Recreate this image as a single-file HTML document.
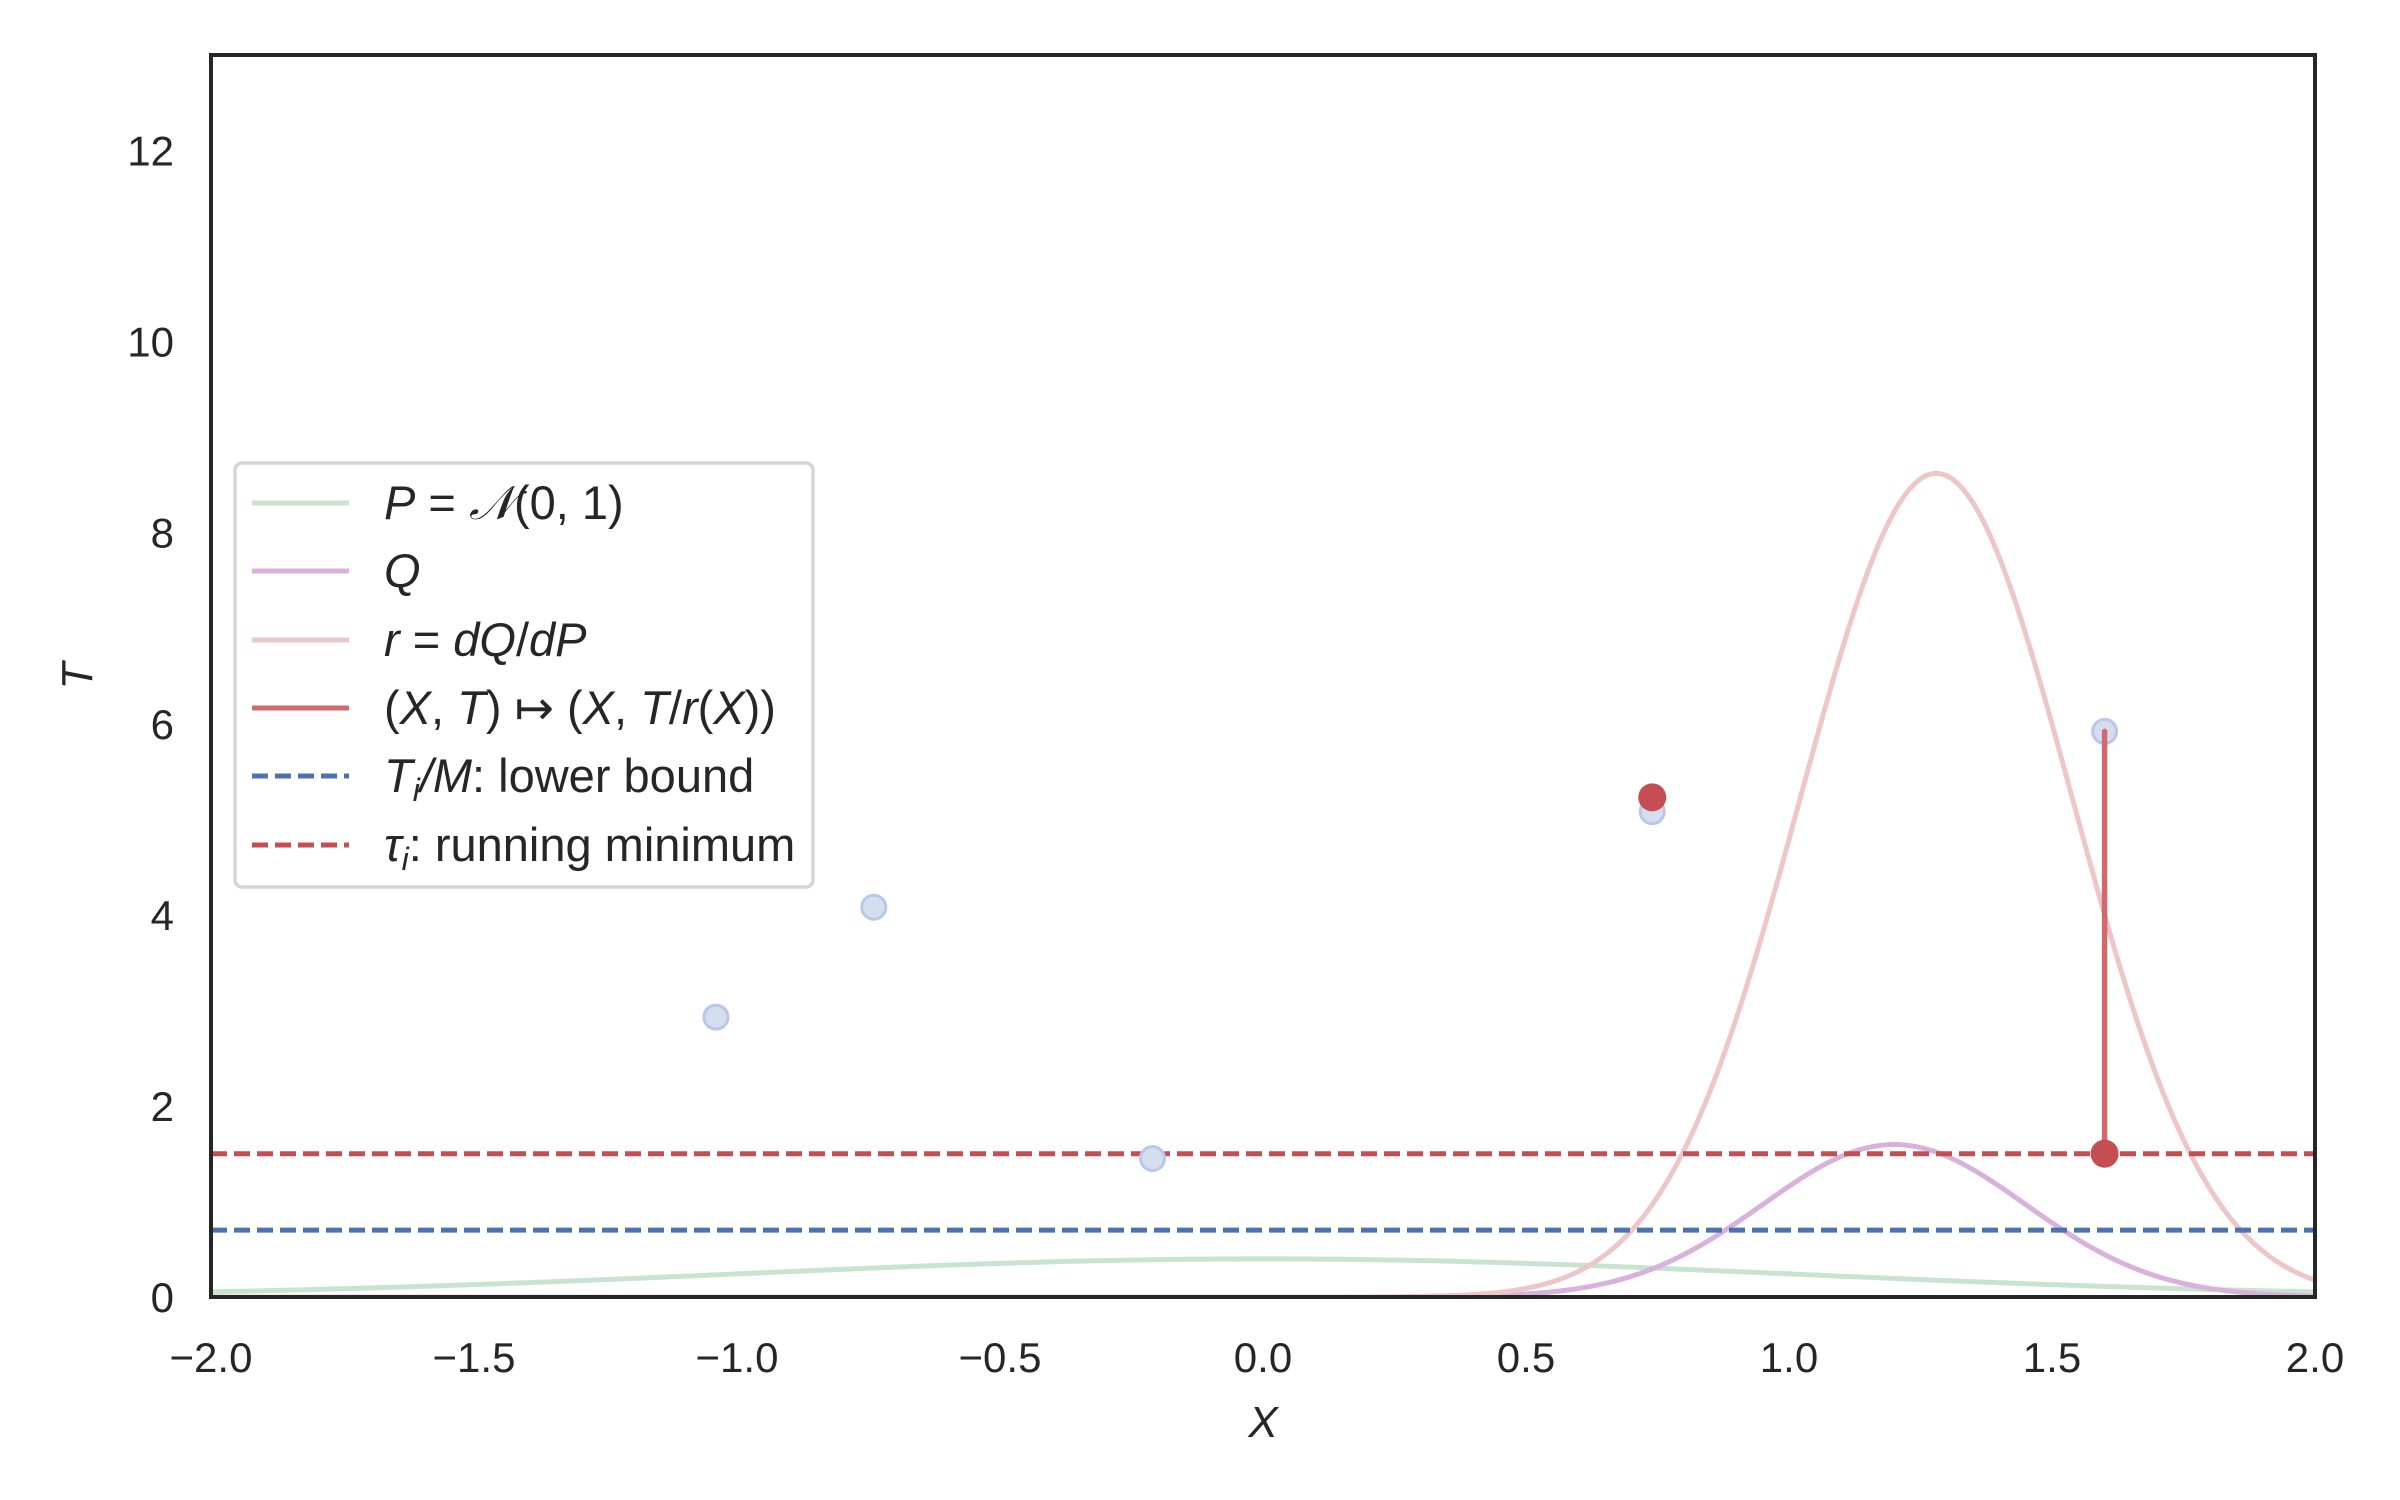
<!DOCTYPE html>
<html><head><meta charset="utf-8">
<style>
html,body{margin:0;padding:0;background:#fff;}
svg{display:block;font-family:"Liberation Sans","DejaVu Sans",sans-serif;}
</style></head>
<body>
<svg id="chart" width="2400" height="1500" viewBox="0 0 2400 1500" xmlns="http://www.w3.org/2000/svg">
<rect x="0" y="0" width="2400" height="1500" fill="#fff"/>
<defs><clipPath id="plotclip"><rect x="211" y="55" width="2104" height="1242"/></clipPath></defs>
<g id="curves" clip-path="url(#plotclip)"></g>
<g id="axes"></g>
<g id="legend"></g>
</svg>
<script>
const xTicks = [-2.0,-1.5,-1.0,-0.5,0.0,0.5,1.0,1.5,2.0];
const xTickLabels = ["\u22122.0","\u22121.5","\u22121.0","\u22120.5","0.0","0.5","1.0","1.5","2.0"];
const yTicks = [0,2,4,6,8,10,12];
const yTickLabels = ["0","2","4","6","8","10","12"];
const sampleX = [-1.04,-0.74,-0.21,0.74,1.60];
const sampleT = [2.93,4.08,1.45,5.08,5.92];
const mappedX = [0.74,1.60];
const mappedT = [5.23,1.50];
const lowerBound = [0.70];
const runningMin = [1.50];
const pParams = [0.0,1.0];   // mean, sd
const qParams = [1.2,0.25];  // mean, sd

const L=211,R=2315,T=55,B=1297, xmin=-2,xmax=2,ymin=0,ymax=13;
const sx=v=>L+(v-xmin)/(xmax-xmin)*(R-L);
const sy=v=>B-(v-ymin)/(ymax-ymin)*(B-T);
const NS="http://www.w3.org/2000/svg";
function mk(tag,attrs,parent){const e=document.createElementNS(NS,tag);for(const k in attrs)e.setAttribute(k,attrs[k]);parent.appendChild(e);return e;}
const pdf=(x,m,s)=>Math.exp(-(x-m)*(x-m)/(2*s*s))/(s*Math.sqrt(2*Math.PI));

const cg=document.getElementById('curves');
function curve(f,color,name){
  let d='';const n=400;
  for(let i=0;i<=n;i++){const x=xmin+(xmax-xmin)*i/n;d+=(i?'L':'M')+sx(x).toFixed(2)+','+sy(f(x)).toFixed(2);}
  const p=mk('path',{d:d,fill:'none',stroke:color,'stroke-width':5},cg);
  
  
}
curve(x=>pdf(x,pParams[0],pParams[1]),'#c8e4d1','p-density-curve');
curve(x=>pdf(x,qParams[0],qParams[1]),'#d8b2da','q-density-curve');
curve(x=>pdf(x,qParams[0],qParams[1])/pdf(x,pParams[0],pParams[1]),'#edc7c8','ratio-curve');

lowerBound.forEach(v=>{const l=mk('line',{x1:L,x2:R,y1:sy(v),y2:sy(v),stroke:'#4c72b0','stroke-width':5,'stroke-dasharray':'16,7'},cg);

});
runningMin.forEach(v=>{const l=mk('line',{x1:L,x2:R,y1:sy(v),y2:sy(v),stroke:'#c44e52','stroke-width':5,'stroke-dasharray':'16,7'},cg);

});

sampleX.forEach((x,i)=>{const c=mk('circle',{cx:sx(x),cy:sy(sampleT[i]),r:12,fill:'#d5deef',stroke:'#b9c8e6','stroke-width':3},cg);

});
{const i=sampleX.length-1;const l=mk('line',{x1:sx(sampleX[i]),x2:sx(mappedX[1]),y1:sy(sampleT[i]),y2:sy(mappedT[1]),stroke:'#d06a6e','stroke-width':5.5,'stroke-linecap':'round'},cg);

}
mappedX.forEach((x,i)=>{const c=mk('circle',{cx:sx(x),cy:sy(mappedT[i]),r:14,fill:'#c44e52'},cg);

});

const ag=document.getElementById('axes');
const fr=mk('rect',{x:L,y:T,width:R-L,height:B-T,fill:'none',stroke:'#262626','stroke-width':4},ag);


xTicks.forEach((v,i)=>{const t=mk('text',{x:sx(v),y:1372,'text-anchor':'middle','font-size':42,fill:'#262626'},ag);t.textContent=xTickLabels[i];

});
yTicks.forEach((v,i)=>{const t=mk('text',{x:174,y:sy(v)+15,'text-anchor':'end','font-size':42,fill:'#262626'},ag);t.textContent=yTickLabels[i];

});
const xt=mk('text',{x:(L+R)/2,y:1437,'text-anchor':'middle','font-size':44,'font-style':'italic',fill:'#262626'},ag);xt.textContent='X';


const yt=mk('text',{x:0,y:0,'text-anchor':'middle','font-size':44,'font-style':'italic',fill:'#262626',transform:'translate(92,676) rotate(-90)'},ag);yt.textContent='T';



const lg=document.getElementById('legend');
const lb=mk('rect',{x:235,y:463,width:578,height:424,rx:7,fill:'#fff','fill-opacity':0.85,stroke:'#d5d5d5','stroke-width':3.5},lg);


const entries=[
 {c:'#c8e4d1',d:null,html:'<tspan font-style="italic">P</tspan> = <tspan font-style="italic">𝒩</tspan>(0, 1)'},
 {c:'#d8b2da',d:null,html:'<tspan font-style="italic">Q</tspan>'},
 {c:'#edc7c8',d:null,html:'<tspan font-style="italic">r</tspan> = <tspan font-style="italic">dQ</tspan>/<tspan font-style="italic">dP</tspan>'},
 {c:'#d06a6e',d:null,html:'(<tspan font-style="italic">X</tspan>, <tspan font-style="italic">T</tspan>) ↦ (<tspan font-style="italic">X</tspan>, <tspan font-style="italic">T</tspan>/<tspan font-style="italic">r</tspan>(<tspan font-style="italic">X</tspan>))'},
 {c:'#4c72b0',d:'16,7',html:'<tspan font-style="italic">T<tspan font-size="32" dy="9">i</tspan><tspan dy="-9">/M</tspan></tspan>: lower bound'},
 {c:'#c44e52',d:'16,7',html:'<tspan font-style="italic">τ<tspan font-size="32" dy="9">i</tspan></tspan><tspan dy="-9">: running minimum</tspan>'}
];
const ey=[503,571,640,708,776,845];
entries.forEach((e,i)=>{
  const a={x1:252,x2:349,y1:ey[i],y2:ey[i],stroke:e.c,'stroke-width':5};
  if(e.d)a['stroke-dasharray']=e.d;
  const l=mk('line',a,lg);
  
  
  const t=mk('text',{x:384,y:ey[i]+16,'font-size':47,fill:'#262626'},lg);
  t.innerHTML=e.html;
  
  
});
</script>
</body></html>
